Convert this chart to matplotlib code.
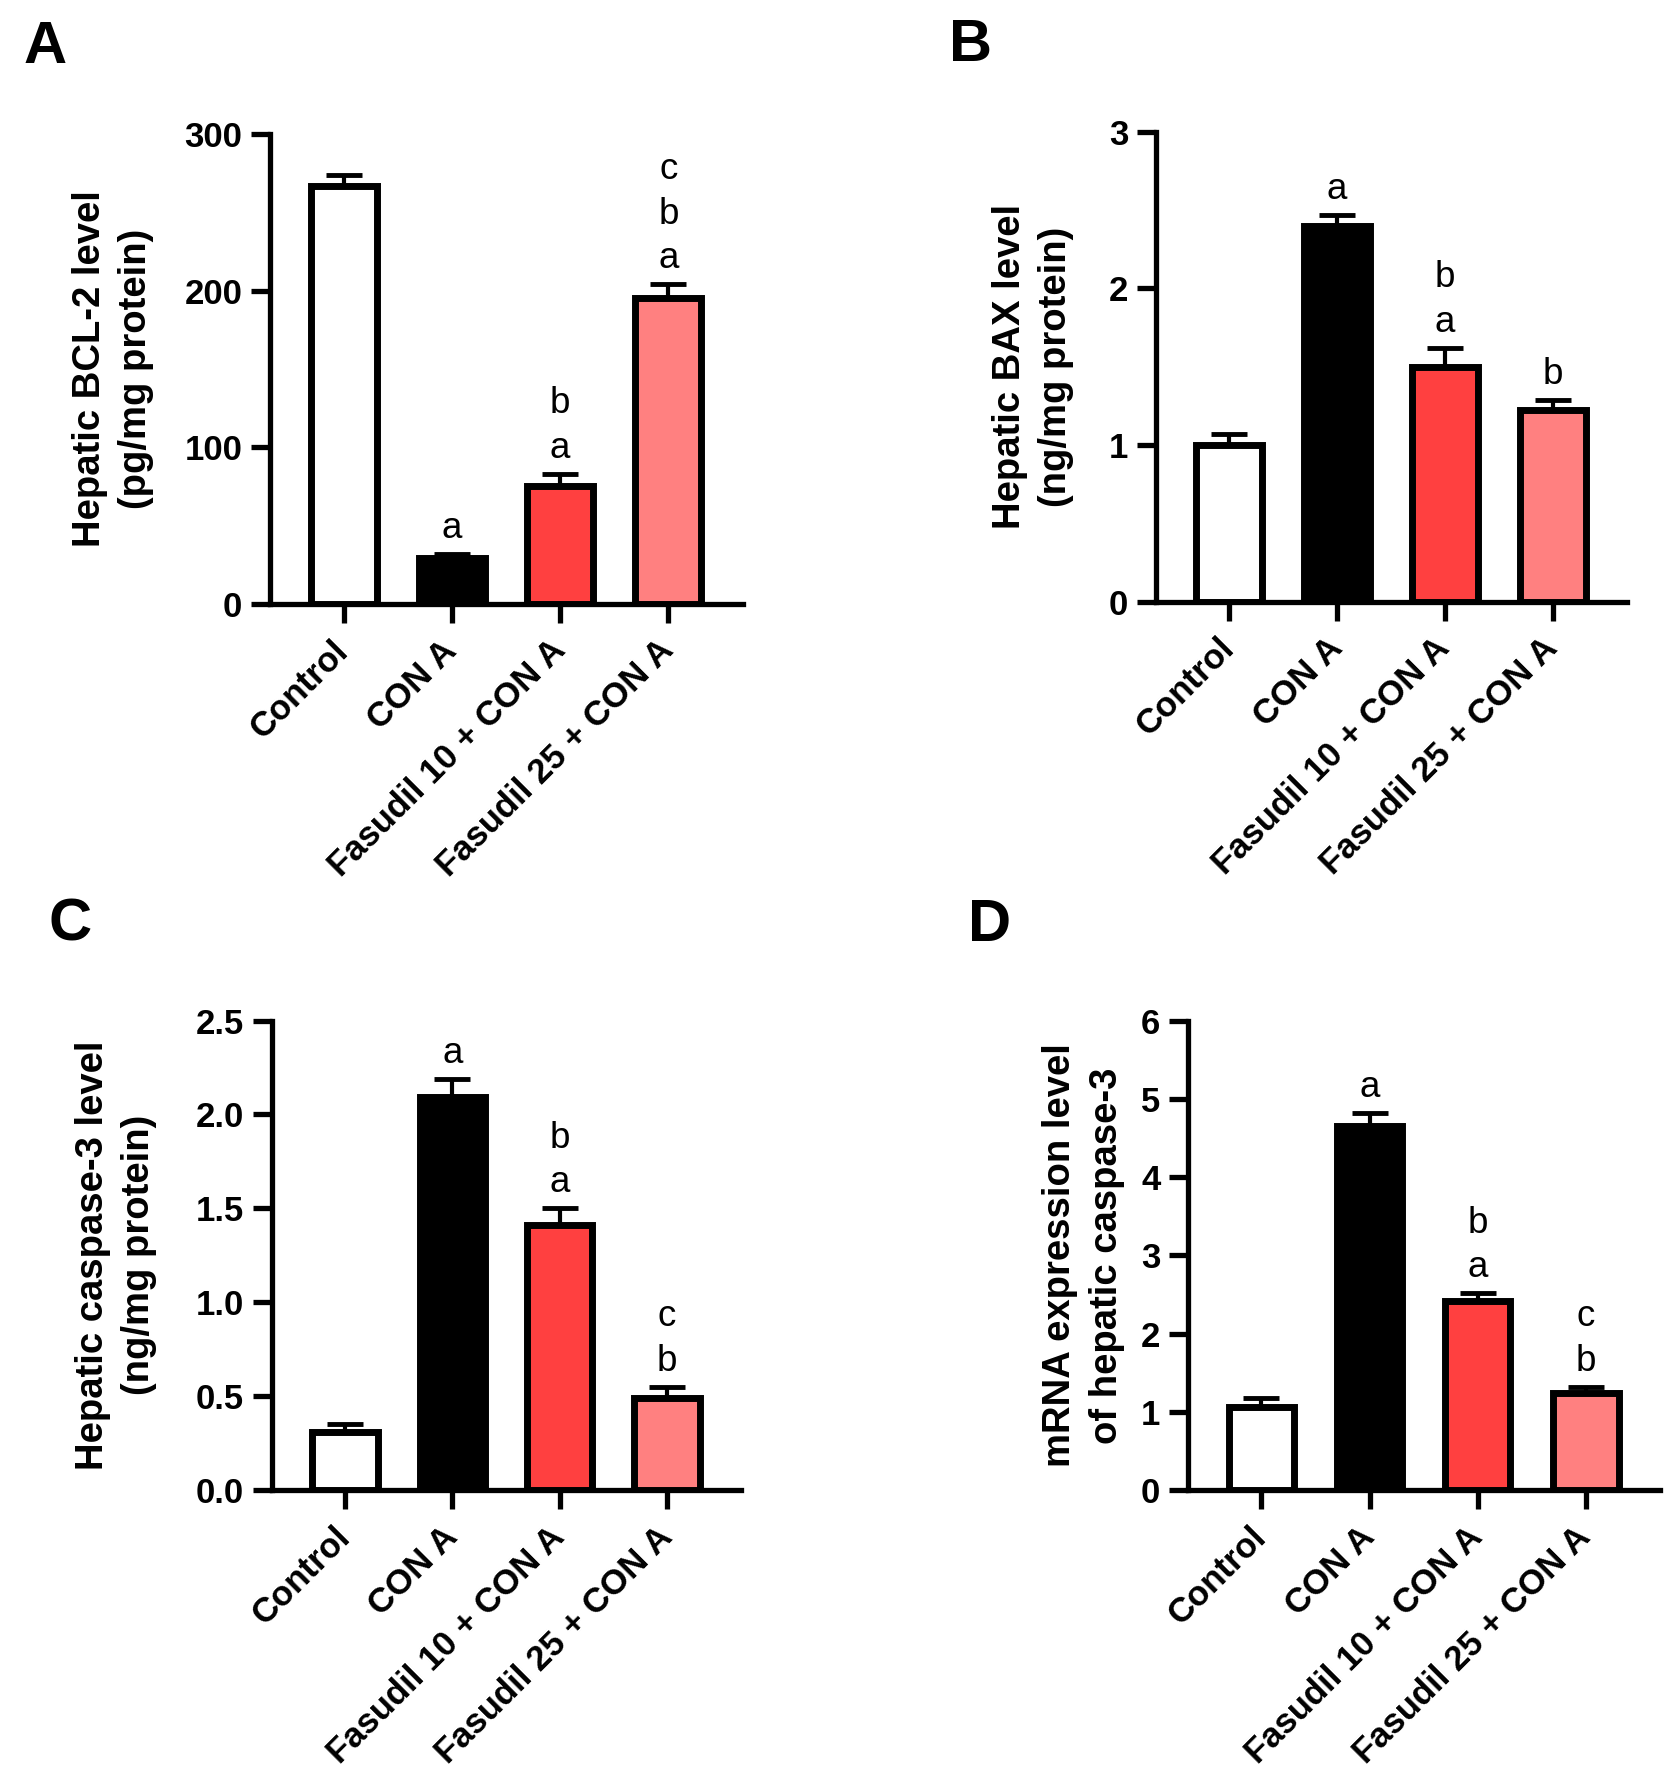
import matplotlib
matplotlib.use("Agg")
import matplotlib.pyplot as plt

plt.rcParams["font.family"] = ["Liberation Sans", "DejaVu Sans"]

groups = ["Control", "CON A", "Fasudil 10 + CON A", "Fasudil 25 + CON A"]
colors = ["#FFFFFF", "#000000", "#FF4040", "#FF8080"]

bcl2_mean = [267, 29, 75, 195]
bcl2_err = [7, 3, 8, 9]
bcl2_sig = ["", "a", "ab", "abc"]

bax_mean = [1.00, 2.40, 1.50, 1.22]
bax_err = [0.07, 0.07, 0.12, 0.07]
bax_sig = ["", "a", "ab", "b"]

casp_mean = [0.31, 2.09, 1.41, 0.49]
casp_err = [0.04, 0.10, 0.09, 0.06]
casp_sig = ["", "a", "ab", "bc"]

mrna_mean = [1.06, 4.65, 2.42, 1.24]
mrna_err = [0.11, 0.17, 0.10, 0.08]
mrna_sig = ["", "a", "ab", "bc"]

W, H = 1674, 1791
fig = plt.figure(figsize=(W / 100, H / 100), dpi=100)

LW = 3.8


def panel(rect, means, errs, sigs, ylim, yticks, yticklabels, ylabel, label_x):
    ax = fig.add_axes(rect)
    xs = list(range(len(groups)))
    ax.errorbar(xs, means, yerr=[[0] * len(errs), errs], fmt="none", ecolor="black",
                elinewidth=3, capsize=13, capthick=3.5, zorder=2)
    ax.bar(xs, means, width=0.61, color=colors, edgecolor="black", linewidth=5, zorder=3)
    ax.set_xlim(-0.68, 3.69)
    ax.set_ylim(*ylim)
    ax.set_yticks(yticks)
    ax.set_yticklabels(yticklabels, fontsize=25, fontweight="bold")
    ax.set_xticks(xs)
    ax.set_xticklabels(groups, fontsize=25, fontweight="bold", rotation=45,
                       ha="right", va="center", rotation_mode="anchor")
    ax.tick_params(axis="both", length=14, width=LW, pad=6)
    ax.tick_params(axis="x", pad=16)
    for k in ("top", "right"):
        ax.spines[k].set_visible(False)
    for k in ("left", "bottom"):
        ax.spines[k].set_linewidth(LW)
    ax.text(label_x, 0.5, ylabel, transform=ax.transAxes, rotation=90, ha="center",
            va="center", fontsize=27.5, fontweight="bold", multialignment="center",
            linespacing=1.38)
    for x, m, e, s in zip(xs, means, errs, sigs):
        for i, ch in enumerate(s):
            ax.annotate(ch, xy=(x, m + e), xytext=(0, 11.5 + 32 * i), textcoords="offset points",
                        ha="center", va="baseline", fontsize=26.5, annotation_clip=False)
    return ax


panel([0.1613, 0.6628, 0.2826, 0.2624], bcl2_mean, bcl2_err, bcl2_sig, (0, 300),
      [0, 100, 200, 300], ["0", "100", "200", "300"],
      "Hepatic BCL-2 level\n(pg/mg protein)", -0.332)
panel([0.6906, 0.6641, 0.2814, 0.2624], bax_mean, bax_err, bax_sig, (0, 3),
      [0, 1, 2, 3], ["0", "1", "2", "3"],
      "Hepatic BAX level\n(ng/mg protein)", -0.261)
panel([0.1625, 0.1681, 0.2802, 0.2621], casp_mean, casp_err, casp_sig, (0, 2.5),
      [0, 0.5, 1.0, 1.5, 2.0, 2.5], ["0.0", "0.5", "1.0", "1.5", "2.0", "2.5"],
      "Hepatic caspase-3 level\n(ng/mg protein)", -0.333)
panel([0.7097, 0.1681, 0.2820, 0.2619], mrna_mean, mrna_err, mrna_sig, (0, 6),
      [0, 1, 2, 3, 4, 5, 6], ["0", "1", "2", "3", "4", "5", "6"],
      "mRNA expression level\nof hepatic caspase-3", -0.222)

for lab, x, y in [("A", 0.0269, 0.9735), ("B", 0.580, 0.9746),
                  ("C", 0.0418, 0.4835), ("D", 0.5911, 0.4830)]:
    fig.text(x, y, lab, ha="center", va="center", fontsize=43, fontweight="bold")

fig.savefig("out.png", dpi=100, facecolor="white")
